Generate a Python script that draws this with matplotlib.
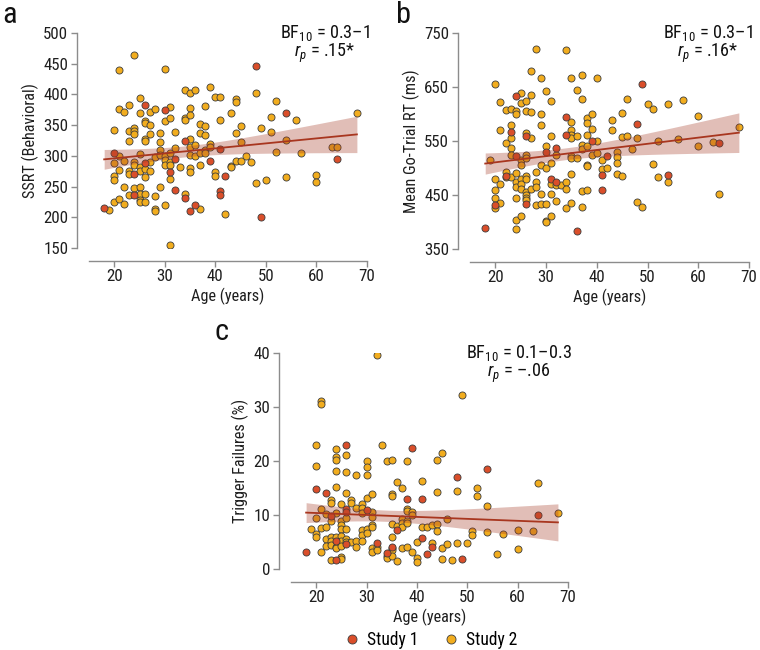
import numpy as np
import matplotlib
matplotlib.use("Agg")
import matplotlib.pyplot as plt
from matplotlib import font_manager as fm

# ---------------- fonts ----------------
avail = {f.name for f in fm.fontManager.ttflist}
NARROW = None
for cand in ["Liberation Sans Narrow", "Arial Narrow", "Roboto Condensed", "DejaVu Sans Condensed"]:
    if cand in avail:
        NARROW = cand
        break
if NARROW:
    FONT, SCALE = NARROW, 1.15
else:
    FONT, SCALE = ("Liberation Sans" if "Liberation Sans" in avail else "DejaVu Sans"), 1.0
plt.rcParams["font.family"] = [FONT, "DejaVu Sans"]
plt.rcParams["mathtext.fontset"] = "custom"
plt.rcParams["mathtext.rm"] = FONT
plt.rcParams["mathtext.it"] = FONT + ":italic"

# ---------------- data ----------------
# Panel a : SSRT (Behavioral)
a_s1_age = [18, 20, 24, 24, 26, 26, 30, 31, 32, 32, 34, 34, 35, 36, 39, 41, 41, 41, 42, 48, 49, 54, 64]
a_s1_val = [215, 305, 270, 237, 383, 288, 374, 273, 295, 245, 325, 231, 211, 220, 292, 311, 243, 237, 267, 447, 200, 369, 295]
a_s2_age = [19,
            20, 20, 20, 20, 20,
            21, 21, 21, 21, 21,
            22, 22, 22, 22,
            23, 23, 23, 23, 23, 23,
            24, 24, 24, 24, 24, 24, 24,
            25, 25, 25, 25, 25, 25, 25, 25, 25,
            26, 26, 26, 26, 26, 26, 26, 26,
            27, 27, 27, 27, 27,
            28, 28, 28, 28, 28,
            29, 29, 29, 29, 29,
            30, 30, 30, 30, 30, 30,
            31, 31, 31, 31, 31, 31, 31,
            32, 32, 33,
            34, 34, 34, 34,
            35, 35, 35, 35, 35, 35, 35, 35,
            36, 36, 36,
            37, 37, 37, 37, 37,
            38, 38, 38, 38, 38,
            39, 39, 39,
            40, 40, 40,
            41, 41, 42,
            43, 43, 43,
            44, 44, 44, 44,
            45, 45, 45, 46, 47, 48, 48, 49, 50, 51, 51, 52, 52,
            54, 54, 56, 57, 60, 60, 63, 64, 68]
a_s2_val = [212,
            342, 289, 268, 260, 225,
            440, 377, 300, 277, 230,
            372, 291, 249, 222,
            383, 340, 324, 275, 270, 236,
            465, 345, 340, 335, 290, 285, 247,
            395, 370, 303, 282, 275, 250, 238, 228, 225,
            357, 353, 328, 325, 278, 265, 238, 225,
            372, 350, 336, 290, 275,
            377, 298, 235, 213, 210,
            338, 322, 310, 302, 249,
            441, 356, 300, 293, 285, 220,
            380, 362, 304, 290, 285, 262, 155,
            339, 312, 282,
            408, 362, 358, 238,
            403, 378, 367, 328, 314, 302, 280, 274,
            408, 318, 300,
            352, 337, 304, 285, 213,
            381, 348, 334, 310, 305,
            412, 320, 315,
            396, 273, 268,
            396, 358, 205,
            370, 284, 282,
            392, 388, 337, 291,
            348, 323, 292, 299, 290, 403, 256, 345, 261, 364, 339, 389, 307,
            326, 266, 358, 305, 269, 258, 314, 314, 370]

# Panel b : Mean Go-Trial RT (ms)
b_s1_age = [18, 20, 22, 23, 24, 24, 26, 26, 30, 31, 32, 32, 34, 34, 36, 39, 41, 41, 42, 48, 49, 54, 64]
b_s1_val = [389, 432, 485, 567, 634, 522, 560, 433, 530, 480, 537, 475, 595, 562, 383, 550, 487, 460, 523, 582, 655, 487, 547]
b_s2_age = [19,
            20, 20, 20, 20, 20,
            21, 21, 21, 21,
            22, 22, 22, 22,
            23, 23, 23, 23, 23, 23,
            24, 24, 24, 24, 24, 24, 24, 24,
            25, 25, 25, 25, 25, 25, 25, 25,
            26, 26, 26, 26, 26, 26, 26, 26, 26, 26, 26,
            27, 27, 27, 27, 27,
            28, 28, 28, 28, 28,
            29, 29, 29, 29, 29, 29,
            30, 30, 30, 30, 30, 30,
            31, 31, 31, 31, 31, 31,
            32, 32, 32, 33,
            34, 34, 34, 34,
            35, 35, 35, 35, 35, 35, 35, 35, 35,
            36, 36, 36,
            37, 37, 37, 37, 37, 37,
            38, 38, 38, 38, 38, 38, 38,
            39, 39, 39,
            40, 40, 40,
            41, 41, 42, 43, 43,
            44, 44, 44, 44,
            45, 45, 45, 46, 46, 47, 48, 48, 49, 50, 51, 51, 52, 52,
            54, 54, 56, 57, 60, 60, 63, 64, 68]
b_s2_val = [515,
            655, 480, 460, 445, 425,
            623, 570, 470, 435,
            607, 547, 493, 484,
            609, 580, 555, 537, 524, 484,
            606, 600, 490, 475, 465, 445, 403, 387,
            638, 620, 515, 505, 480, 470, 462, 411,
            625, 606, 565, 525, 519, 485, 480, 455, 450, 445, 440,
            680, 636, 604, 555, 462,
            720, 493, 474, 465, 432,
            667, 600, 580, 505, 452, 433,
            643, 540, 500, 433, 402, 400,
            624, 560, 510, 470, 451, 412,
            525, 468, 438, 468,
            718, 475, 462, 425,
            667, 585, 570, 562, 555, 522, 518, 488, 435,
            645, 560, 518,
            672, 627, 543, 535, 458, 428,
            592, 584, 562, 540, 505, 503, 460,
            600, 572, 525,
            666, 550, 527,
            515, 498, 500, 588, 570,
            530, 520, 510, 488,
            602, 557, 485, 628, 560, 535, 555, 437, 428, 618, 610, 507, 550, 483,
            619, 474, 553, 626, 597, 541, 548, 452, 576]

# Panel c : Trigger Failures (%)
c_s1_age = [18, 20, 22, 23, 24, 24, 26, 26, 26, 26, 30, 32, 34, 35, 36, 38, 39, 41, 41, 42, 43, 48, 49, 54, 64]
c_s1_val = [3.2, 14.8, 14.0, 9.9, 5.2, 1.6, 23.0, 11.2, 10.5, 4.6, 10.9, 4.8, 3.0, 4.1, 7.2, 13.0, 22.4, 13.0, 5.8, 2.7, 4.0, 17.1, 1.8, 18.6, 10.0]
c_s2_age = [19,
            20, 20, 20, 20, 20,
            21, 21, 21, 21, 21,
            22, 22, 22, 22,
            23, 23, 23, 23, 23, 23, 23,
            24, 24, 24, 24, 24, 24, 24, 24, 24,
            25, 25, 25, 25, 25, 25, 25, 25, 25,
            26, 26, 26, 26, 26, 26, 26,
            27, 27, 27,
            28, 28, 28, 28,
            29, 29, 29, 29, 29, 29,
            30, 30, 30, 30, 30, 30,
            31, 31, 31, 31, 31, 31, 31,
            32, 32, 32, 33,
            34, 34, 34,
            35, 35, 35, 35, 35, 35, 35, 35,
            36, 36, 36,
            37, 37, 37, 37, 37,
            38, 38, 38, 38, 38, 38,
            39, 39, 39,
            40, 40, 40,
            41, 41, 42, 43, 43,
            44, 44, 44, 44,
            45, 45, 45, 46, 46, 47, 48, 48, 49, 50, 51, 51, 52, 52,
            54, 54, 56, 57, 60, 60, 63, 64, 68]
c_s2_val = [7.5,
            23.0, 19.0, 9.5, 6.5, 6.0,
            31.2, 30.5, 11.2, 7.6, 3.1,
            10.1, 7.8, 5.5, 4.3,
            12.8, 12.2, 8.8, 6.0, 5.2, 4.5, 1.6,
            22.2, 20.8, 20.2, 18.2, 15.2, 10.3, 6.0, 4.0, 3.8,
            12.0, 8.8, 8.1, 7.5, 6.2, 5.2, 4.2, 2.2, 1.9,
            21.2, 18.0, 14.0, 9.5, 7.5, 5.5, 5.0,
            12.8, 12.3, 5.0,
            17.5, 11.3, 5.1, 4.0,
            12.0, 11.3, 10.4, 7.3, 6.3, 5.2,
            20.0, 18.9, 17.4, 13.2, 7.5, 6.7,
            13.8, 10.6, 9.6, 8.2, 7.8, 3.8, 3.1,
            39.6, 4.1, 3.5, 23.0,
            20.0, 2.5, 2.0,
            20.2, 13.8, 13.6, 8.4, 6.0, 3.8, 3.5, 2.5,
            16.1, 8.0, 1.4,
            15.0, 9.2, 8.5, 7.7, 3.8,
            20.0, 11.2, 10.8, 8.8, 8.5, 4.1,
            10.5, 10.0, 3.2,
            5.0, 2.1, 1.3,
            16.3, 7.8, 7.8, 8.2, 4.8,
            20.2, 14.2, 8.3, 7.0,
            21.5, 3.8, 1.9, 9.2, 4.7, 1.7, 14.5, 4.8, 32.3, 4.9, 7.0, 6.3, 15.0, 13.5,
            11.6, 6.8, 2.8, 6.4, 7.3, 3.7, 7.1, 15.9, 10.4]

y_labels = ["SSRT (Behavioral)", "Mean Go-Trial RT (ms)", "Trigger Failures (%)"]
x_label = "Age (years)"
panel_letters = ["a", "b", "c"]
bf_texts = ["0.3\u20131", "0.3\u20131", "0.1\u20130.3"]
r_texts = [".15*", ".16*", "\u2013.06"]
y_ticks = [[150, 200, 250, 300, 350, 400, 450, 500],
           [350, 450, 550, 650, 750],
           [0, 10, 20, 30, 40]]
x_ticks = [20, 30, 40, 50, 60, 70]
legend_labels = ["Study 1", "Study 2"]

# ---------------- style ----------------
C_S1 = "#DA4E2A"
C_S2 = "#F2AD1E"
C_EDGE = "#3c3c3c"
C_LINE = "#A8361F"
C_BAND = "#A53A26"
C_SPINE = "#8c8c8c"
C_TEXT = "#1e1e1e"
W, H = 760, 650

fig = plt.figure(figsize=(W / 100, H / 100), dpi=100)


def px_axes(x0, y0, x1, y1):
    return fig.add_axes([x0 / W, 1 - y1 / H, (x1 - x0) / W, (y1 - y0) / H])


axes = [px_axes(89, 33, 367, 248), px_axes(470, 33, 749, 249), px_axes(291, 353, 568, 569)]
datasets = [(a_s1_age, a_s1_val, a_s2_age, a_s2_val),
            (b_s1_age, b_s1_val, b_s2_age, b_s2_val),
            (c_s1_age, c_s1_val, c_s2_age, c_s2_val)]

for i, (ax, (x1, y1, x2, y2)) in enumerate(zip(axes, datasets)):
    ax.scatter(x2, y2, s=26, c=C_S2, edgecolors=C_EDGE, linewidths=0.6, zorder=2)
    ax.scatter(x1, y1, s=26, c=C_S1, edgecolors=C_EDGE, linewidths=0.6, zorder=2)

    # linear regression with 95% CI
    x = np.array(list(x1) + list(x2), float)
    y = np.array(list(y1) + list(y2), float)
    n = len(x)
    b1, b0 = np.polyfit(x, y, 1)
    xs = np.linspace(x.min(), x.max(), 100)
    ys = b0 + b1 * xs
    resid = y - (b0 + b1 * x)
    s = np.sqrt(np.sum(resid ** 2) / (n - 2))
    se = s * np.sqrt(1 / n + (xs - x.mean()) ** 2 / np.sum((x - x.mean()) ** 2))
    ax.fill_between(xs, ys - 1.97 * se, ys + 1.97 * se, color=C_BAND, alpha=0.33,
                    linewidth=0, zorder=3)
    ax.plot(xs, ys, color=C_LINE, lw=1.3, zorder=4)

    ax.set_xlim(15, 70)
    ax.set_ylim(y_ticks[i][0], y_ticks[i][-1])
    ax.set_xticks(x_ticks)
    ax.set_yticks(y_ticks[i])
    for side in ("top", "right"):
        ax.spines[side].set_visible(False)
    for side in ("left", "bottom"):
        ax.spines[side].set_position(("outward", 9))
        ax.spines[side].set_color(C_SPINE)
        ax.spines[side].set_linewidth(1.0)
    ax.tick_params(colors=C_SPINE, labelcolor=C_TEXT, labelsize=10.6 * SCALE, length=4,
                   width=1.0, pad=2)
    ax.set_xlabel(x_label, fontsize=10.2 * SCALE, color=C_TEXT, labelpad=3)
    ax.set_ylabel(y_labels[i], fontsize=10.2 * SCALE, color=C_TEXT, labelpad=3)

# panel letters (top-anchored so they stay inside the figure)
for (px, py), let in zip([(10, 1), (403, 1), (222, 318)], panel_letters):
    fig.text(px / W, 1 - py / H, let, fontsize=19 * SCALE, ha="center", va="top",
             color="#111111")

# stats text
for (cx, yb, yr), bf, rt in zip([(325, 33, 53), (708, 33, 53), (519, 353, 373)], bf_texts, r_texts):
    fig.text(cx / W, 1 - yb / H, r"$\mathrm{BF}_{\mathrm{10}}$ = " + bf, fontsize=11.4 * SCALE,
             ha="center", va="center", color="#111111")
    fig.text(cx / W, 1 - yr / H, r"$r_{p}$ = " + rt, fontsize=11.4 * SCALE,
             ha="center", va="center", color="#111111")

# legend
h1 = plt.Line2D([], [], ls="", marker="o", ms=6.5, mfc=C_S1, mec=C_EDGE, mew=0.6)
h2 = plt.Line2D([], [], ls="", marker="o", ms=6.5, mfc=C_S2, mec=C_EDGE, mew=0.6)
fig.legend([h1, h2], legend_labels, loc="center", bbox_to_anchor=(431 / W, 1 - 640 / H),
           ncol=2, frameon=False, fontsize=11.0 * SCALE, handletextpad=0.4, columnspacing=1.4,
           handlelength=0.9)

fig.savefig("out.png", dpi=100)
